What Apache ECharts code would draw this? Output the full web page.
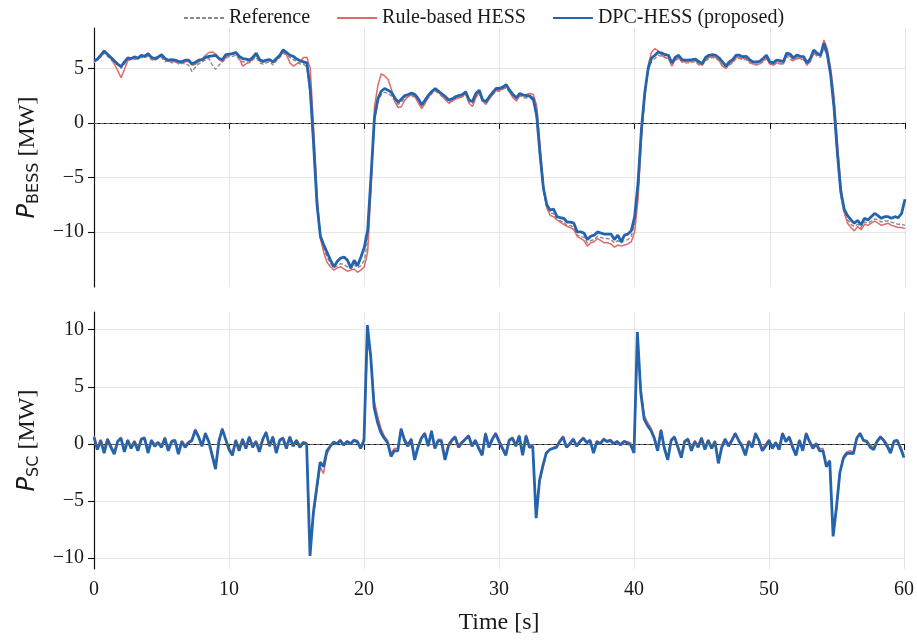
<!DOCTYPE html>
<html>
<head>
<meta charset="utf-8">
<script src="https://cdn.jsdelivr.net/npm/echarts@6/dist/echarts.min.js"></script>
<style>html,body{margin:0;padding:0;background:#fff}#c{width:917px;height:640px}</style>
</head>
<body>
<div id="c"></div>
<script>
// Time grid: 0 .. 60 s, step 0.25 s
const timeStep = 0.25;
const nPoints = 241;
const time = Array.from({length: nPoints}, (_, i) => i * timeStep);

const seriesNames = ['Reference', 'Rule-based HESS', 'DPC-HESS (proposed)'];
const xTicks = [0, 10, 20, 30, 40, 50, 60];
const bessTicks = [-10, -5, 0, 5];
const scTicks = [-10, -5, 0, 5, 10];

// P_BESS [MW]
const refBess = [
 5.5, 5.9, 6.0, 6.4,   6.1, 5.8, 5.5, 5.3,   5.0, 5.4, 5.7, 5.9,   5.8, 5.9, 6.0, 6.0,
 6.1, 5.8, 5.7, 5.9,   6.0, 5.6, 5.7, 5.5,   5.6, 5.4, 5.5, 5.4,   5.3, 4.7, 5.1, 5.4,
 5.6, 5.8, 5.9, 5.3,   4.9, 5.3, 5.6, 5.9,   6.1, 6.1, 6.2, 5.8,   5.6, 5.6, 5.5, 5.8,
 6.0, 5.5, 5.4, 5.5,   5.6, 5.3, 5.7, 6.0,   6.4, 6.2, 6.0, 5.8,   5.6, 5.4, 5.4, 5.1,
 2.6, -2.5, -7.8, -10.6,   -11.6, -12.3, -12.9, -13.3,   -13.1, -12.9, -13.0, -13.2,   -13.4, -13.0, -13.3, -13.1,
 -12.6, -10.8, -5.5, 0.2,   1.9, 2.6, 2.8, 2.7,   2.5, 2.0, 1.7, 1.9,   2.3, 2.4, 2.5, 2.3,
 2.0, 1.5, 1.9, 2.3,   2.7, 2.9, 2.7, 2.4,   2.2, 1.9, 2.0, 2.2,   2.3, 2.4, 2.6, 1.9,
 1.8, 2.5, 2.7, 1.9,   1.8, 2.2, 2.6, 2.9,   2.9, 3.1, 3.2, 2.8,   2.4, 2.1, 2.5, 2.3,
 2.3, 2.3, 2.0, 0.4,   -3.3, -6.3, -7.8, -8.3,   -8.3, -8.9, -9.0, -9.1,   -9.4, -9.4, -9.6, -10.3,
 -10.4, -10.5, -11.0, -10.8,   -10.7, -10.4, -10.5, -10.6,   -10.6, -10.7, -11.0, -10.8,   -11.0, -10.8, -10.7, -10.4,
 -9.2, -6.2, -1.2, 2.4,   4.8, 5.7, 5.9, 6.2,   6.1, 6.0, 5.9, 5.3,   5.7, 5.9, 5.6, 5.5,
 5.5, 5.6, 5.6, 5.3,   5.3, 5.7, 5.9, 6.0,   5.9, 5.7, 5.2, 5.0,   5.3, 5.5, 5.9, 5.9,
 5.8, 5.8, 5.5, 5.4,   5.3, 5.4, 5.6, 5.9,   5.4, 5.3, 5.5, 5.4,   5.4, 6.1, 5.8, 5.7,
 5.9, 5.8, 5.8, 5.3,   5.6, 6.4, 6.1, 6.0,   6.9, 6.1, 4.2, 1.0,   -3.2, -6.7, -8.3, -8.9,
 -9.3, -9.5, -9.3, -9.6,   -9.1, -9.2, -9.0, -8.8,   -8.9, -9.1, -9.0, -9.0,   -9.1, -9.2, -9.3, -9.3,
 -9.4
];
const ruleBess = [
 5.6, 5.75, 6.1, 6.5,   6.25, 5.9, 5.4, 4.8,   4.15, 4.9, 5.7, 5.85,   6.0, 5.85, 6.1, 6.05,
 6.3, 5.9, 5.8, 5.95,   6.2, 5.8, 5.65, 5.7,   5.6, 5.5, 5.45, 5.6,   5.65, 5.3, 5.35, 5.6,
 5.85, 6.2, 6.45, 6.5,   6.3, 5.8, 5.6, 6.0,   6.25, 6.3, 6.4, 5.9,   5.2, 5.4, 5.6, 5.85,
 6.2, 5.7, 5.55, 5.7,   5.75, 5.5, 5.8, 6.1,   6.5, 6.2, 5.5, 5.2,   5.4, 5.6, 6.0, 6.0,
 5.0, -0.5, -6.5, -10.6,   -11.9, -12.8, -13.2, -13.5,   -13.3, -13.2, -13.4, -13.6,   -13.5, -13.4, -13.7, -13.5,
 -13.2, -11.8, -6.0, 1.5,   3.4, 4.5, 4.3, 4.0,   3.1, 2.0, 1.4, 1.5,   2.1, 2.4, 2.6, 2.4,
 1.8, 1.3, 1.8, 2.4,   2.8, 3.0, 2.8, 2.5,   2.1, 1.8, 2.0, 2.2,   2.3, 2.4, 2.7, 1.8,
 1.5, 2.3, 2.8, 2.0,   1.7, 2.2, 2.6, 3.0,   3.0, 3.1, 3.4, 2.8,   2.3, 2.0, 2.5, 2.5,
 2.6, 2.7, 2.6, 1.6,   -2.0, -5.8, -7.8, -8.5,   -8.6, -8.9, -9.1, -9.3,   -9.5, -9.6, -9.8, -10.4,
 -10.6, -10.8, -11.3, -11.0,   -10.9, -10.6, -10.8, -11.0,   -11.0, -11.1, -11.4, -11.2,   -11.3, -11.2, -11.1, -10.9,
 -10.0, -7.0, -1.5, 2.5,   5.3, 6.5, 6.8, 6.6,   6.2, 6.0, 5.9, 5.2,   5.8, 6.0, 5.6, 5.6,
 5.6, 5.6, 5.7, 5.4,   5.3, 5.8, 6.0, 6.1,   6.0, 5.7, 5.2, 5.0,   5.4, 5.6, 6.0, 6.0,
 5.9, 5.9, 5.6, 5.4,   5.4, 5.4, 5.7, 5.9,   5.4, 5.3, 5.5, 5.5,   5.4, 6.2, 6.1, 5.7,
 6.0, 5.9, 5.8, 5.3,   5.7, 6.5, 6.2, 6.3,   7.6, 6.8, 5.0, 2.4,   -1.8, -5.8, -8.2, -9.2,
 -9.6, -9.9, -9.5, -9.8,   -9.3, -9.4, -9.2, -9.0,   -9.2, -9.4, -9.3, -9.2,   -9.4, -9.5, -9.6, -9.6,
 -9.7
];
const dpcBess = [
 5.7, 5.85, 6.2, 6.6,   6.3, 6.0, 5.7, 5.4,   5.15, 5.6, 5.95, 5.9,   6.05, 5.95, 6.2, 6.1,
 6.35, 6.0, 5.9, 6.05,   6.25, 5.9, 5.75, 5.8,   5.75, 5.65, 5.6, 5.75,   5.75, 5.4, 5.55, 5.75,
 5.8, 6.0, 6.1, 6.15,   6.2, 5.9, 5.8, 6.25,   6.3, 6.35, 6.45, 6.1,   5.9, 5.85, 5.75, 6.0,
 6.4, 5.8, 5.65, 5.75,   5.8, 5.6, 5.9, 6.2,   6.7, 6.45, 6.2, 6.1,   5.85, 5.7, 5.6, 5.5,
 3.0, -2.0, -7.5, -10.4,   -11.2, -11.9, -12.6, -13.2,   -12.7, -12.4, -12.3, -12.6,   -13.3, -12.6, -13.1, -12.3,
 -11.4, -9.8, -4.8, 0.5,   2.2, 2.9, 3.15, 3.0,   2.8, 2.3, 1.9, 2.2,   2.5, 2.6, 2.75, 2.6,
 2.2, 1.65, 2.1, 2.55,   2.9, 3.15, 2.9, 2.65,   2.4, 2.1, 2.2, 2.4,   2.5, 2.6, 2.85, 2.1,
 1.95, 2.7, 3.0, 2.1,   1.95, 2.4, 2.8, 3.15,   3.15, 3.3, 3.5, 3.0,   2.6, 2.3, 2.7, 2.55,
 2.5, 2.45, 2.2, 0.7,   -2.9, -6.0, -7.5, -8.0,   -7.9, -8.6, -8.7, -8.75,   -9.1, -9.1, -9.2, -10.0,
 -10.0, -10.1, -10.7, -10.4,   -10.3, -10.0, -10.1, -10.2,   -10.2, -10.2, -10.7, -10.3,   -10.9, -10.3, -10.2, -9.9,
 -8.6, -5.5, -0.6, 2.8,   5.0, 5.95, 6.2, 6.5,   6.4, 6.25, 6.2, 5.5,   6.0, 6.2, 5.8, 5.75,
 5.77, 5.8, 5.85, 5.6,   5.45, 6.0, 6.2, 6.25,   6.2, 5.95, 5.6, 5.2,   5.6, 5.8, 6.2, 6.2,
 6.07, 6.1, 5.8, 5.6,   5.6, 5.65, 5.9, 6.2,   5.6, 5.5, 5.75, 5.7,   5.61, 6.4, 6.3, 5.95,
 6.23, 6.1, 6.07, 5.5,   5.9, 6.69, 6.38, 6.2,   7.3, 6.3, 4.4, 1.4,   -2.8, -6.3, -7.9, -8.5,
 -8.9, -9.2, -8.95, -9.35,   -8.75, -8.9, -8.6, -8.3,   -8.5, -8.75, -8.6, -8.6,   -8.75, -8.6, -8.7, -8.3,
 -7.0
];

// P_SC [MW]
const ruleSc = [
 0.7, -0.3, 0.4, -0.6,   0.5, -0.1, -0.7, 0.3,   0.6, -0.5, 0.4, -0.2,   0.3, -0.4, 0.5, 0.6,
 -0.6, 0.4, 0.0, 0.2,   -0.1, 0.6, -0.4, 0.3,   0.4, -0.7, 0.3, -0.1,   0.2, 0.4, 1.3, 0.7,
 0.0, 1.0, 0.3, -0.8,   -1.9, 0.4, 1.4, 0.5,   -0.3, -0.8, 0.4, -0.4,   0.5, -0.2, 0.7, -0.1,
 0.3, -0.5, 0.5, 1.1,   0.0, 0.7, -0.6, 0.4,   0.6, -0.2, 0.7, 0.0,   0.4, -0.1, 0.2, 0.1,
 -9.2, -6.3, -4.2, -2.0,   -2.6, -0.9, -0.3, 0.2,   0.1, 0.4, 0.0, 0.3,   0.1, 0.4, 0.3, -0.2,
 0.5, 8.8, 7.8, 3.8,   2.5, 1.4, 0.7, 0.3,   -0.8, -0.4, -0.4, 1.4,   0.5, 0.0, 0.5, -1.1,
 -0.1, 0.6, 1.0, 0.0,   1.2, -0.2, 0.4, 0.4,   -1.2, 0.0, 0.4, 0.7,   -0.1, 0.2, 0.5, 0.8,
 0.0, 0.4, -0.2, -0.8,   1.0, -0.1, 0.5, 1.0,   0.4, -0.2, -0.8, 0.4,   0.6, 0.0, 0.8, -0.8,
 0.8, -0.1, -0.1, -6.2,   -3.4, -2.1, -0.9, -0.5,   -0.3, -0.2, 0.3, 0.7,   -0.2, 0.1, 0.5, -0.1,
 0.3, 0.6, 0.2, 0.4,   -0.6, 0.3, 0.1, 0.5,   0.3, 0.4, 0.1, 0.3,   0.0, 0.3, 0.2, 0.1,
 -0.6, 8.6, 5.0, 2.5,   1.9, 1.4, 0.7, -0.4,   1.3, -0.2, -1.2, 0.4,   0.7, -0.1, -1.0, 0.3,
 0.5, -0.4, 0.3, -0.1,   0.6, -0.3, 0.4, -0.2,   0.3, -1.5, -0.1, 0.5,   0.0, 0.4, 1.0, 0.4,
 0.0, -0.8, 0.3, -0.1,   1.0, 0.4, -0.4, 0.0,   0.4, -0.2, 0.2, -0.3,   1.0, 0.3, 0.7, -0.1,
 -0.8, 0.4, -0.4, 1.0,   0.3, -0.2, 0.1, -0.4,   -0.4, -1.8, -1.4, -7.6,   -5.8, -2.6, -1.1, -0.7,
 -0.6, -0.7, 0.6, 1.0,   0.4, 0.3, -0.1, -0.3,   0.3, 0.7, 0.4, 0.0,   -0.6, 0.3, 0.4, -0.2,
 -1.0
];
const dpcSc = [
 0.6, -0.5, 0.3, -0.8,   0.4, -0.3, -0.9, 0.2,   0.5, -0.7, 0.3, -0.4,   0.2, -0.6, 0.4, 0.5,
 -0.8, 0.3, -0.2, 0.1,   -0.3, 0.5, -0.6, 0.2,   0.3, -0.9, 0.2, -0.3,   0.1, 0.3, 1.2, 0.6,
 -0.2, 0.9, 0.2, -1.0,   -2.2, 0.2, 1.3, 0.4,   -0.5, -1.0, 0.3, -0.6,   0.4, -0.4, 0.6, -0.3,
 0.2, -0.7, 0.4, 1.0,   -0.2, 0.6, -0.8, 0.3,   0.5, -0.4, 0.6, -0.2,   0.3, -0.3, 0.1, 0.0,
 -9.8, -6.0, -3.8, -1.6,   -2.0, -0.6, -0.2, 0.15,   0.0, 0.3, -0.1, 0.2,   0.0, 0.3, 0.2, -0.4,
 0.3, 10.4, 7.6, 3.2,   1.9, 1.0, 0.5, 0.1,   -1.1, -0.6, -0.6, 1.3,   0.3, -0.2, 0.4, -1.4,
 -0.3, 0.5, 0.9, -0.2,   1.1, -0.4, 0.3, 0.2,   -1.4, -0.2, 0.3, 0.6,   -0.3, 0.1, 0.4, 0.7,
 -0.2, 0.3, -0.4, -1.0,   0.9, -0.3, 0.4, 0.9,   0.2, -0.4, -1.0, 0.3,   0.5, -0.2, 0.7, -1.0,
 0.7, -0.3, -0.2, -6.5,   -3.2, -1.9, -0.8, -0.5,   -0.4, -0.3, 0.2, 0.6,   -0.3, 0.0, 0.4, -0.2,
 0.2, 0.5, 0.1, 0.3,   -0.8, 0.2, 0.0, 0.4,   0.2, 0.3, 0.0, 0.2,   -0.1, 0.2, 0.1, -0.1,
 -0.8, 9.8, 4.5, 2.2,   1.6, 1.2, 0.5, -0.6,   1.2, -0.4, -1.4, 0.3,   0.6, -0.3, -1.2, 0.2,
 0.4, -0.6, 0.2, -0.3,   0.5, -0.5, 0.3, -0.4,   0.2, -1.7, -0.3, 0.4,   -0.2, 0.3, 0.9, 0.3,
 -0.2, -1.0, 0.2, -0.3,   0.9, 0.3, -0.6, -0.2,   0.3, -0.4, 0.1, -0.5,   0.9, 0.2, 0.6, -0.3,
 -1.0, 0.3, -0.6, 0.9,   0.2, -0.4, 0.0, -0.6,   -0.6, -2.0, -1.5, -8.1,   -5.5, -2.5, -1.3, -0.85,
 -0.8, -0.85, 0.5, 0.9,   0.3, 0.2, -0.3, -0.5,   0.2, 0.6, 0.3, -0.2,   -0.8, 0.2, 0.3, -0.4,
 -1.2
];

const pair = arr => arr.map((v, i) => [time[i], v]);
const SERIF = 'Liberation Serif';
const TXT = '#1a1a1a';
const minusFmt = v => String(v).replace('-', '\u2212');

const colRef = '#8a8a8a', colRule = '#e06a6a', colDpc = '#2463ad';

const zeroLine = {
  silent: true, symbol: 'none', label: {show: false},
  lineStyle: {color: '#666', width: 0.9, type: [4, 2]},
  data: [{yAxis: 0}]
};

function yAxisCfg(gridIndex, min, max, ticks, name) {
  return {
    type: 'value', gridIndex, min, max,
    axisLine: {show: true, lineStyle: {color: '#111', width: 1.2}},
    axisTick: {show: true, length: 6, lineStyle: {color: '#111', width: 1.1}, customValues: ticks},
    axisLabel: {color: TXT, fontFamily: SERIF, fontSize: 20, margin: 10, formatter: minusFmt, customValues: ticks},
    splitLine: {show: true, lineStyle: {color: '#e3e3e3', width: 0.9}},
    name, nameLocation: 'middle', nameRotate: 90, nameGap: 50,
    nameTextStyle: {
      color: TXT,
      rich: {
        i: {fontFamily: 'DejaVu Sans', fontStyle: 'italic', fontSize: 24, color: TXT},
        s: {fontFamily: 'DejaVu Sans', fontSize: 16, color: TXT, padding: [12, 0, 0, 0]},
        n: {fontFamily: SERIF, fontSize: 24, color: TXT}
      }
    }
  };
}

function xAxisCfg(gridIndex, showLabels) {
  const ax = {
    type: 'value', gridIndex, min: 0, max: 60, interval: 10,
    axisLine: {show: true, lineStyle: {color: '#111', width: 1.2}},
    axisTick: {show: true, length: 6, lineStyle: {color: '#111', width: 1.1}},
    axisLabel: {show: showLabels, color: TXT, fontFamily: SERIF, fontSize: 20, margin: 11},
    splitLine: {show: true, lineStyle: {color: '#e3e3e3', width: 0.9}}
  };
  if (showLabels) {
    ax.name = 'Time [s]';
    ax.nameLocation = 'middle';
    ax.nameGap = 42;
    ax.nameTextStyle = {color: TXT, fontFamily: SERIF, fontSize: 24};
  }
  return ax;
}

const chart = echarts.init(document.getElementById('c'), null, {renderer: 'canvas'});
chart.setOption({
  animation: false,
  backgroundColor: '#fff',
  grid: [
    {left: 94, right: 12, top: 28, height: 259},
    {left: 94, right: 12, top: 312, height: 257}
  ],
  legend: {
    left: 178, top: 3,
    itemWidth: 40, itemHeight: 14, itemGap: 26,
    itemStyle: {opacity: 0},
    textStyle: {fontFamily: SERIF, fontSize: 20, color: TXT},
    data: seriesNames
  },
  xAxis: [xAxisCfg(0, false), xAxisCfg(1, true)],
  yAxis: [
    yAxisCfg(0, -15.05, 8.7, bessTicks, '{i|P}{s|BESS}{n| [MW]}'),
    yAxisCfg(1, -10.95, 11.55, scTicks, '{i|P}{s|SC}{n| [MW]}')
  ],
  series: [
    {name: seriesNames[0], type: 'line', xAxisIndex: 0, yAxisIndex: 0, data: pair(refBess),
     symbol: 'none', lineStyle: {color: colRef, width: 1.4, type: [4, 2]}, itemStyle: {color: colRef},
     markLine: zeroLine, z: 2},
    {name: seriesNames[1], type: 'line', xAxisIndex: 0, yAxisIndex: 0, data: pair(ruleBess),
     symbol: 'none', lineStyle: {color: colRule, width: 1.5}, itemStyle: {color: colRule}, z: 3},
    {name: seriesNames[2], type: 'line', xAxisIndex: 0, yAxisIndex: 0, data: pair(dpcBess),
     symbol: 'none', lineStyle: {color: colDpc, width: 2.8}, itemStyle: {color: colDpc}, z: 4},
    {name: seriesNames[1], type: 'line', xAxisIndex: 1, yAxisIndex: 1, data: pair(ruleSc),
     symbol: 'none', lineStyle: {color: colRule, width: 1.5}, itemStyle: {color: colRule},
     markLine: zeroLine, z: 3},
    {name: seriesNames[2], type: 'line', xAxisIndex: 1, yAxisIndex: 1, data: pair(dpcSc),
     symbol: 'none', lineStyle: {color: colDpc, width: 2.8}, itemStyle: {color: colDpc}, z: 4}
  ]
});
</script>
</body>
</html>
